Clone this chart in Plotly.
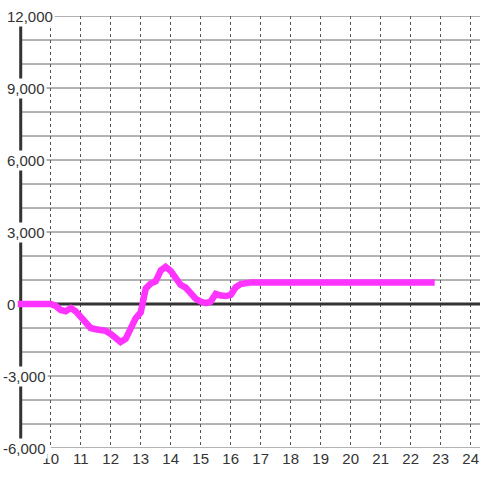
import plotly.graph_objects as go

# Series (x in hours, y in units)
hours = [8.9, 10.0, 10.17, 10.33, 10.5, 10.67, 10.83, 11.0, 11.17, 11.33, 11.5,
         11.67, 11.83, 12.0, 12.17, 12.33, 12.5, 12.67, 12.83, 13.0, 13.17,
         13.33, 13.5, 13.67, 13.83, 14.0, 14.17, 14.33, 14.5, 14.67, 14.83,
         15.0, 15.17, 15.33, 15.5, 15.67, 15.83, 16.0, 16.17, 16.33, 16.5,
         16.67, 22.8]
values = [0, 0, -80, -250, -300, -170, -300, -550, -800, -1000, -1050,
          -1060, -1120, -1250, -1450, -1580, -1450, -950, -600, -350, 650,
          850, 950, 1400, 1550, 1380, 1050, 800, 680, 420, 220,
          100, 40, 100, 420, 350, 330, 380, 700, 830, 880,
          900, 900]

x_ticks = list(range(10, 25))
y_ticks = [-6000, -3000, 0, 3000, 6000, 9000, 12000]
y_tick_labels = ['-6,000', '-3,000', '0', '3,000', '6,000', '9,000', '12,000']
y_grid = list(range(-6000, 12001, 1000))

line_color = '#ff33ff'
grid_color = '#666666'
axis_color = '#333333'
text_color = '#333333'
font_family = 'Liberation Sans, Arial, sans-serif'

x_range = [8.843, 24.31]
y_range = [-6000, 12000]

fig = go.Figure()

fig.add_trace(go.Scatter(
    x=hours,
    y=values,
    mode='lines',
    line=dict(color=line_color, width=6.5),
    hoverinfo='skip',
    showlegend=False
))

shapes = []
# horizontal grid lines start at the y axis
for g in y_grid:
    if g == 0:
        continue
    shapes.append(dict(
        type='line', xref='x', yref='y',
        x0=10 if g == y_range[0] else 9, x1=x_range[1], y0=g, y1=g,
        line=dict(color=grid_color, width=1), layer='between'
    ))
# zero line and the y axis line
shapes.append(dict(
    type='line', xref='x', yref='y', x0=9, x1=x_range[1], y0=0, y1=0,
    line=dict(color=axis_color, width=3), layer='between'
))
shapes.append(dict(
    type='line', xref='x', yref='y', x0=9, x1=9, y0=y_range[0], y1=y_range[1],
    line=dict(color=axis_color, width=3), layer='between'
))

# y tick labels sit on a white box over the axis line
annotations = []
for v, t in zip(y_ticks, y_tick_labels):
    left = 1 if t.startswith('-') else 5
    annotations.append(dict(
        x=0, xref='paper', y=v, yref='y',
        xanchor='left', yanchor='middle',
        xshift=left - 16,
        text=t, showarrow=False,
        bgcolor='white', borderpad=1,
        font=dict(size=15, color=text_color, family=font_family)
    ))

fig.update_layout(
    width=480,
    height=480,
    margin=dict(l=16, r=0, t=16, b=32, autoexpand=False),
    paper_bgcolor='white',
    plot_bgcolor='white',
    font=dict(family=font_family, size=15, color=text_color),
    shapes=shapes,
    annotations=annotations,
    xaxis=dict(
        range=x_range,
        tickmode='array',
        tickvals=x_ticks,
        ticktext=[str(t) for t in x_ticks],
        showgrid=True,
        gridcolor='#555555',
        gridwidth=1,
        griddash='3px,3px',
        zeroline=False,
        showline=False,
        ticks='',
        automargin=False,
        tickfont=dict(size=15, color=text_color),
        fixedrange=True
    ),
    yaxis=dict(
        range=y_range,
        showgrid=False,
        zeroline=False,
        showline=False,
        showticklabels=False,
        ticks='',
        automargin=False,
        fixedrange=True
    )
)

# drop the page margin so the 480x480 figure fills the window
fig.write_html("out.html", config={'displayModeBar': False},
               post_script="document.body.style.margin='0';")
